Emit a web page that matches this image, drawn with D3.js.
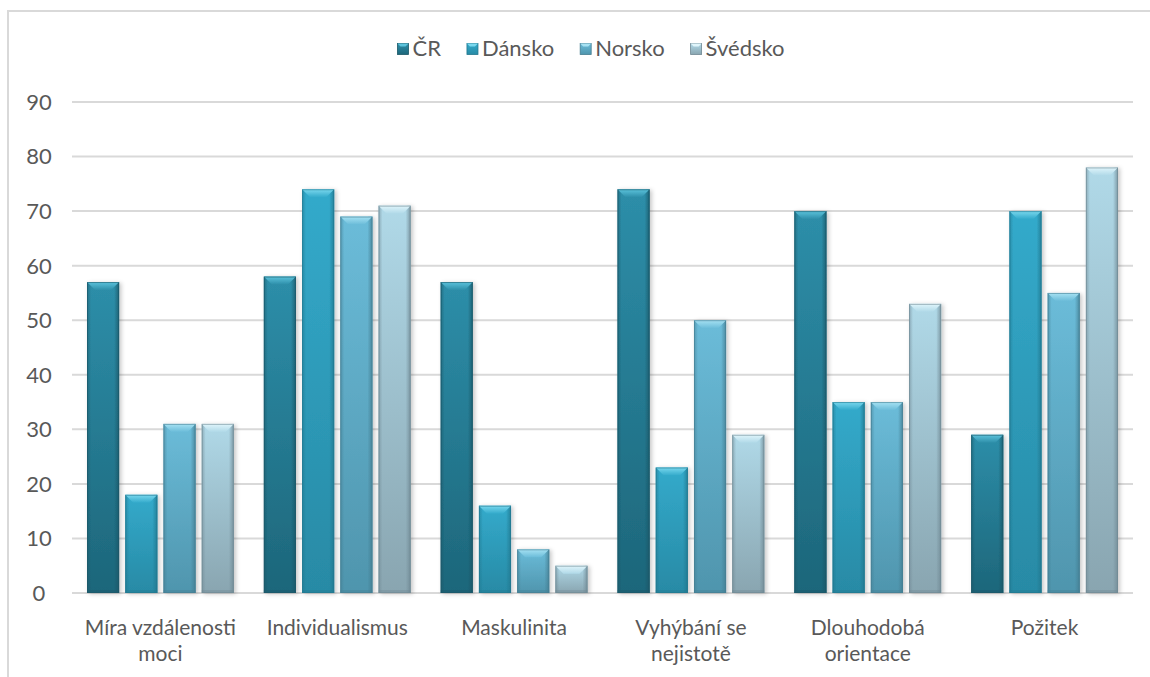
<!DOCTYPE html>
<html>
<head>
<meta charset="utf-8">
<script src="https://cdn.jsdelivr.net/npm/d3@7"></script>
<style>
  html, body { margin: 0; padding: 0; background: #ffffff; }
  svg { display: block; }
  text { font-family: Lato, "Open Sans", sans-serif; fill: #595959; }
</style>
</head>
<body>
<svg id="chart" width="1150" height="677"></svg>
<script>
// Hofstedeho kulturní dimenze – ČR a skandinávské země
const categories = [
  ["Míra vzdálenosti", "moci"],
  ["Individualismus"],
  ["Maskulinita"],
  ["Vyhýbání se", "nejistotě"],
  ["Dlouhodobá", "orientace"],
  ["Požitek"]
];
const seriesNames = ["ČR", "Dánsko", "Norsko", "Švédsko"];
const valuesCR      = [57, 58, 57, 74, 70, 29];
const valuesDansko  = [18, 74, 16, 23, 35, 70];
const valuesNorsko  = [31, 69,  8, 50, 35, 55];
const valuesSvedsko = [31, 71,  5, 29, 53, 78];
const yTicks = [0, 10, 20, 30, 40, 50, 60, 70, 80, 90];

const seriesValues = [valuesCR, valuesDansko, valuesNorsko, valuesSvedsko];

// bar palette: [top of body, bottom of body, bevel highlight, edge]
const palette = [
  ["#2d8ea9", "#1d667a", "#5cc3dc", "#1a5767"],
  ["#33aacb", "#288aa5", "#7ad8ee", "#21778e"],
  ["#6bbcd9", "#4f95ad", "#a7e2f3", "#447d91"],
  ["#b0d9e8", "#89a5b0", "#e0f5fb", "#6f8893"]
];

const svg = d3.select("#chart");
const plot = { left: 72, right: 1133, top: 102, bottom: 593 };
const fontSize = "22px";

// outer chart frame
svg.append("rect")
  .attr("x", 8).attr("y", 11)
  .attr("width", 1170).attr("height", 720)
  .attr("fill", "#ffffff")
  .attr("stroke", "#d9d9d9").attr("stroke-width", 2);

const defs = svg.append("defs");
palette.forEach((p, i) => {
  const g = defs.append("linearGradient").attr("id", "body" + i)
    .attr("x1", 0).attr("y1", 0).attr("x2", 0).attr("y2", 1);
  g.append("stop").attr("offset", "0%").attr("stop-color", p[0]);
  g.append("stop").attr("offset", "100%").attr("stop-color", p[1]);
  const b = defs.append("linearGradient").attr("id", "bevel" + i)
    .attr("x1", 0).attr("y1", 0).attr("x2", 0).attr("y2", 1);
  b.append("stop").attr("offset", "0%").attr("stop-color", p[2]);
  b.append("stop").attr("offset", "100%").attr("stop-color", p[0]);
  const s = defs.append("linearGradient").attr("id", "side" + i)
    .attr("x1", 0).attr("y1", 0).attr("x2", 1).attr("y2", 0);
  s.append("stop").attr("offset", "0%").attr("stop-color", p[3]).attr("stop-opacity", 0.55);
  s.append("stop").attr("offset", "100%").attr("stop-color", p[3]).attr("stop-opacity", 0);
  const s2 = defs.append("linearGradient").attr("id", "sideR" + i)
    .attr("x1", 1).attr("y1", 0).attr("x2", 0).attr("y2", 0);
  s2.append("stop").attr("offset", "0%").attr("stop-color", p[3]).attr("stop-opacity", 0.8);
  s2.append("stop").attr("offset", "100%").attr("stop-color", p[3]).attr("stop-opacity", 0);
});
const shadow = defs.append("filter").attr("id", "shadow")
  .attr("x", "-20%").attr("y", "-10%").attr("width", "150%").attr("height", "130%");
shadow.append("feDropShadow")
  .attr("dx", 2).attr("dy", 1).attr("stdDeviation", 2)
  .attr("flood-color", "#000").attr("flood-opacity", 0.22);

const catKeys = categories.map(c => c.join(" "));
const x0 = d3.scaleBand().domain(catKeys).range([plot.left, plot.right]).padding(0);
const groupPad = 15;
const x1 = d3.scaleBand().domain(seriesNames)
  .range([groupPad, x0.bandwidth() - groupPad]).paddingInner(0.16).paddingOuter(0);
const y = d3.scaleLinear().domain([0, 90]).range([plot.bottom, plot.top]);

// horizontal gridlines
svg.append("g").selectAll("line").data(yTicks).join("line")
  .attr("x1", plot.left).attr("x2", plot.right)
  .attr("y1", d => y(d)).attr("y2", d => y(d))
  .attr("stroke", "#d9d9d9").attr("stroke-width", 2);

// y tick labels
svg.append("g").selectAll("text").data(yTicks).join("text")
  .attr("x", 39).attr("y", d => y(d))
  .attr("dy", "0.36em")
  .attr("text-anchor", "middle")
  .style("font-size", fontSize)
  .text(d => d);

// bars
function drawBar(g, x, yTop, w, h, i) {
  const b = Math.min(8, h / 2, w / 2);
  const bar = g.append("g").attr("filter", "url(#shadow)");
  bar.append("rect").attr("x", x).attr("y", yTop).attr("width", w).attr("height", h)
    .attr("fill", `url(#body${i})`);
  // side shading
  bar.append("rect").attr("x", x).attr("y", yTop).attr("width", 4).attr("height", h)
    .attr("fill", `url(#side${i})`);
  bar.append("rect").attr("x", x + w - 5).attr("y", yTop).attr("width", 5).attr("height", h)
    .attr("fill", `url(#sideR${i})`);
  // bottom shading
  bar.append("rect").attr("x", x).attr("y", yTop + h - 3).attr("width", w).attr("height", 3)
    .attr("fill", palette[i][3]).attr("opacity", 0.35);
  // top bevel
  bar.append("polygon")
    .attr("points", [[x, yTop], [x + w, yTop], [x + w - b, yTop + b], [x + b, yTop + b]].map(p => p.join(",")).join(" "))
    .attr("fill", `url(#bevel${i})`);
  bar.append("rect").attr("x", x + 0.5).attr("y", yTop + 0.5).attr("width", w - 1).attr("height", h - 1)
    .attr("fill", "none").attr("stroke", palette[i][3]).attr("stroke-opacity", 0.6).attr("stroke-width", 1);
}

const groups = svg.append("g").selectAll("g").data(catKeys).join("g")
  .attr("transform", d => `translate(${x0(d)},0)`);
groups.each(function (cat, ci) {
  const g = d3.select(this);
  seriesNames.forEach((s, si) => {
    const v = seriesValues[si][ci];
    drawBar(g, x1(s), y(v), x1.bandwidth(), y(0) - y(v), si);
  });
});

// category labels, one text per line
const catLabels = svg.append("g");
categories.forEach((lines, i) => {
  const cx = x0(catKeys[i]) + x0.bandwidth() / 2;
  lines.forEach((ln, k) => {
    catLabels.append("text")
      .attr("x", cx)
      .attr("y", 635 + k * 26)
      .attr("text-anchor", "middle")
      .style("font-size", "21px")
      .text(ln);
  });
});

// legend
const legend = svg.append("g");
const items = legend.selectAll("g").data(seriesNames).join("g");
items.append("text")
  .attr("x", 15).attr("y", 0).attr("dy", "0.36em")
  .style("font-size", fontSize)
  .text(d => d);
let cursor = 0;
const itemGap = 26;
items.each(function (d, i) {
  const it = d3.select(this);
  const tw = it.select("text").node().getComputedTextLength();
  it.attr("transform", `translate(${cursor},48)`);
  drawLegendMarker(it, i);
  cursor += 15 + tw + itemGap;
});
const totalW = cursor - itemGap;
legend.attr("transform", `translate(${591 - totalW / 2},0)`);

function drawLegendMarker(g, i) {
  const s = 11;
  const top = -s / 2 + 1;
  g.append("rect").attr("x", 0).attr("y", top).attr("width", s).attr("height", s)
    .attr("fill", `url(#body${i})`).attr("stroke", palette[i][3]).attr("stroke-width", 0.8);
  g.append("polygon")
    .attr("points", [[0, top], [s, top], [s - 3, top + 3], [3, top + 3]].map(p => p.join(",")).join(" "))
    .attr("fill", palette[i][2]);
}
</script>
</body>
</html>
